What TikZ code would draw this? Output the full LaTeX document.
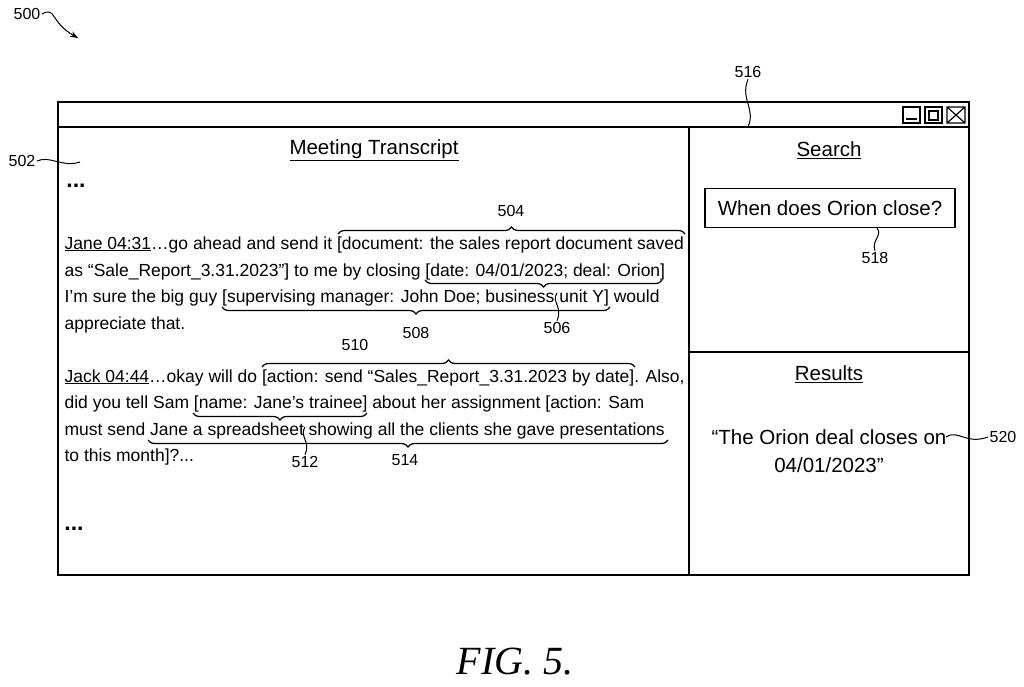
\documentclass[tikz,border=0pt]{standalone}
\usepackage{fontspec}
\setmainfont{Liberation Sans}
\newfontfamily\figfont{Liberation Serif}
\usetikzlibrary{decorations.pathreplacing,arrows.meta}

\begin{document}
\begin{tikzpicture}[%
    x=1pt, y=-1pt,              % pixel-like grid, top-down
    font=\fontsize{17.5}{20}\selectfont,
    line width=1.2pt,
    ]
% -------------------------------------------------
% styles
\tikzset{
  txt/.style={anchor=base west, inner sep=0pt},
  hd/.style={font=\fontsize{20.5}{23}\selectfont},
  ref/.style={font=\fontsize{16}{18}\selectfont, inner sep=1pt},
  brc/.style={decorate, decoration={brace, amplitude=7pt}},
  mbrc/.style={decorate, decoration={brace, amplitude=7pt, mirror}},
  lead/.style={draw, line width=1pt}
}
\useasboundingbox (0,0) rectangle (1024,687);
% -------------------------------------------------
% window frame
\draw (58,102) rectangle (969,575);
\draw (58,127) -- (969,127);
\draw (689,127) -- (689,575);
\draw (689,352) -- (969,352);
\draw (903,107) rectangle (920,123) (906,119) -- (917,119);
\draw (925,107) rectangle (942,123) (929,111) rectangle (938,120);
\draw (947,107) rectangle (965,123) (947,107) -- (965,123) (965,107) -- (947,123);
% headings
\node [hd] (mt) at (374,150) {\underline{Meeting Transcript}};
\node [hd] (sr) at (829,150) {\underline{Search}};
\node [hd] (rs) at (829,374) {\underline{Results}};
\node [draw, hd, minimum width=250pt, minimum height=39pt] (q) at (830,208) {When does Orion close?};
\node [hd, align=center] (ans) at (829,451) {``The Orion deal closes on\\[5pt]04/01/2023''};
\node [font=\bfseries\fontsize{23}{25}\selectfont] (d1) at (76,186) {...};
\node [font=\bfseries\fontsize{23}{25}\selectfont] (d2) at (74,529) {...};
% transcript lines
\node [txt] (j1) at (64,249) {\underline{Jane 04:31}\ldots go ahead and send it [document: the sales report document saved};
\node [txt] (j2) at (64,276) {as ``Sale\_Report\_3.31.2023''] to me by closing [date: 04/01/2023; deal: Orion]};
\node [txt] (j3) at (64,302) {I'm sure the big guy [supervising manager: John Doe; business unit Y] would};
\node [txt] (j4) at (64,329) {appreciate that.};
\node [txt] (k1) at (64,382) {\underline{Jack 04:44}\ldots okay will do [action: send ``Sales\_Report\_3.31.2023 by date]. Also,};
\node [txt] (k2) at (64,408) {did you tell Sam [name: Jane's trainee] about her assignment [action: Sam};
\node [txt] (k3) at (64,435) {must send Jane a spreadsheet showing all the clients she gave presentations};
\node [txt] (k4) at (64,461) {to this month]?...};
% braces
\draw [brc] (338,234) -- (685,234);
\draw [mbrc] (425,280) -- (662,280);
\draw [mbrc] (222,307) -- (610,307);
\draw [brc] (262,367) -- (635,367);
\draw [mbrc] (193,413) -- (367,413);
\draw [mbrc] (148,440) -- (668,440);
% reference numerals
\node [ref] (n504) at (511,211) {504};
\node [ref] (n506) at (557,328) {506};
\node [ref] (n508) at (416,333) {508};
\node [ref] (n510) at (355,345) {510};
\node [ref] (n512) at (305,462) {512};
\node [ref] (n514) at (405,460) {514};
\node [ref] (n500) at (27,14) {500};
\node [ref] (n502) at (22,161) {502};
\node [ref] (n516) at (748,72) {516};
\node [ref] (n518) at (875,258) {518};
\node [ref] (n520) at (1003,437) {520};
% lead lines
\draw [lead] (557,293) .. controls (551,302) and (563,306) .. (n506.north);
\draw [lead] (305,427) .. controls (299,436) and (311,442) .. (n512.north);
\draw [lead, -{Stealth[length=8pt]}] (n500.east) .. controls (56,6) and (50,22) .. (78,38);
\draw [lead] (n502.east) .. controls (50,155) and (62,168) .. (80,162);
\draw [lead] (n516.south) .. controls (740,100) and (756,108) .. (748,127);
\draw [lead] (q.south -| 877,0) .. controls (883,236) and (871,240) .. (n518.north);
\draw [lead] (946,437) .. controls (958,429) and (966,445) .. (n520.west);
% -------------------------------------------------
\node (fig) at (515,662) {\figfont\itshape\fontsize{40}{42}\selectfont FIG. 5.};
\end{tikzpicture}
\end{document}
